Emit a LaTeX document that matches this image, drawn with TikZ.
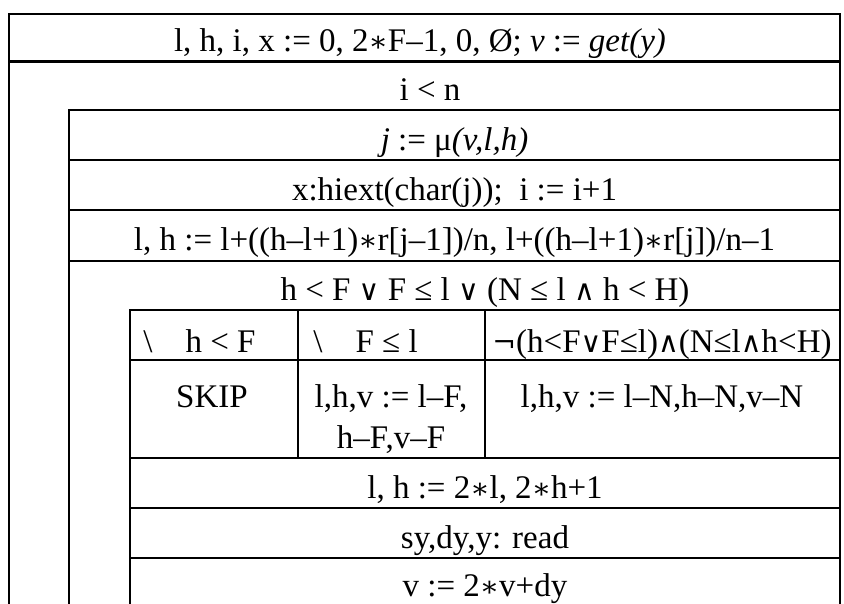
\documentclass[tikz,border=0pt]{standalone}
\usepackage{fontspec}
\setmainfont{Liberation Serif}
\newfontfamily\symf{DejaVu Serif}[Scale=0.86]
\newcommand{\sOr}{{\symf ∨}}
\newcommand{\sAnd}{{\symf ∧}}
\newcommand{\sNot}{{\symf ¬}}
\newcommand{\sMul}{{\symf ∗}}
\tikzset{
  cell/.style={font=\fontsize{33}{41}\selectfont, anchor=base, inner sep=0pt},
  cellw/.style={cell, anchor=base west}
}
\begin{document}
\begin{tikzpicture}[x=1pt, y=-1pt, line width=2.8pt, line cap=rect]
  \useasboundingbox (0,0) rectangle (844,603);
  % outer frame, open at the bottom
  \draw (9,603) -- (9,14) -- (840,14) -- (840,603);
  \draw (9,61.5) -- (840,61.5);
  % loop body box
  \draw (69,603) -- (69,110) -- (840,110);
  \draw (69,160) -- (840,160);
  \draw (69,210) -- (840,210);
  \draw (69,261) -- (840,261);
  % inner box with the three cases
  \draw (130,603) -- (130,310) -- (840,310);
  \draw (130,360) -- (840,360);
  \draw (298,310) -- (298,458);
  \draw (485,310) -- (485,458);
  \draw (130,458) -- (840,458);
  \draw (130,508) -- (840,508);
  \draw (130,558) -- (840,558);
  % row texts
  \node[cell] (init) at (420,51) {l, h, i, x := 0, 2\sMul F–1, 0, Ø; \textit{v} := \textit{get(y)}};
  \node[cell] (loop) at (430,100) {i < n};
  \node[cell] (mu) at (454.5,150) {\textit{j} := μ\textit{(v,l,h)}};
  \node[cell] (ext) at (454.5,200) {x:hiext(char(j));\ \ i := i+1};
  \node[cell] (range) at (454.5,250) {l, h := l+((h–l+1)\sMul r[j–1])/n, l+((h–l+1)\sMul r[j])/n–1};
  \node[cell] (cond) at (485,300) {h < F \sOr\ F ≤ l \sOr\ (N ≤ l \sAnd\ h < H)};
  % case headers
  \node[cellw] (hdrlow) at (142,352) {\textbackslash\quad h < F};
  \node[cellw] (hdrhigh) at (312,352) {\textbackslash\quad F ≤ l};
  \node[cell] (hdrmid) at (662,352) {\sNot(h<F\sOr F≤l)\sAnd(N≤l\sAnd h<H)};
  % case bodies
  \node[cell] (skip) at (212,407) {SKIP};
  \node[cell] (subfa) at (391,407) {l,h,v := l–F,};
  \node[cell] (subfb) at (391,448) {h–F,v–F};
  \node[cell] (subn) at (662,407) {l,h,v := l–N,h–N,v–N};
  % closing rows
  \node[cell] (scale) at (485,498) {l, h := 2\sMul l, 2\sMul h+1};
  \node[cell] (read) at (485,548) {sy,dy,y: read};
  \node[cell] (acc) at (485,596) {v := 2\sMul v+dy};
\end{tikzpicture}
\end{document}
